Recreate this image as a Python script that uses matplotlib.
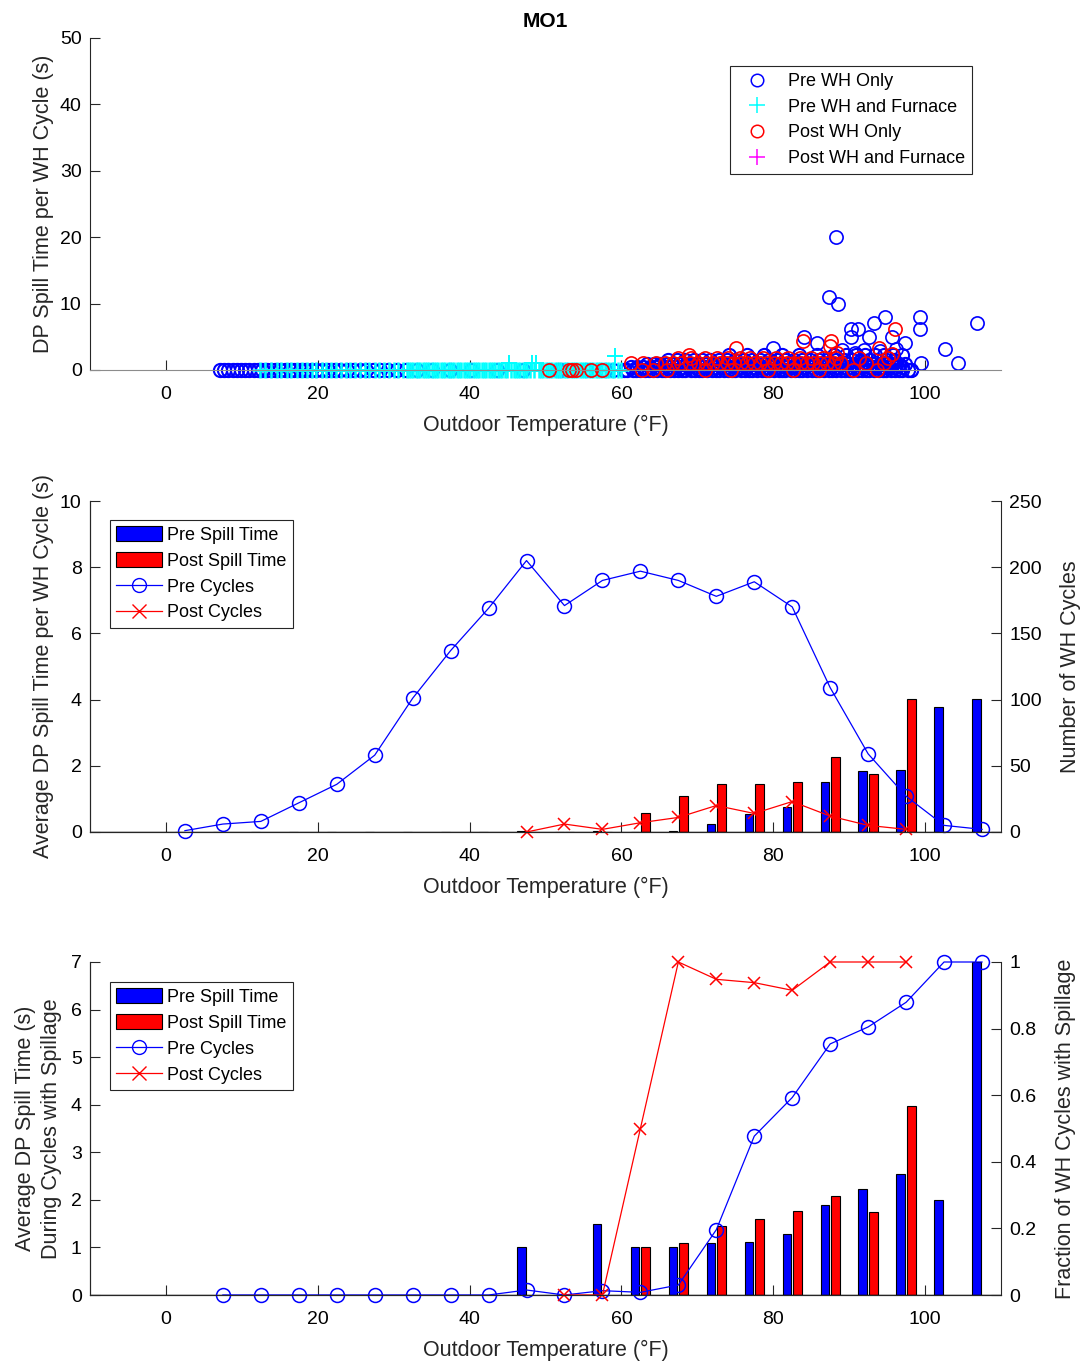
import matplotlib
matplotlib.use('Agg')
import matplotlib.pyplot as plt
from matplotlib.patches import Patch
from matplotlib.lines import Line2D

plt.rcParams['font.family'] = ['Liberation Sans', 'DejaVu Sans']

# ---------------- top panel: each WH cycle ----------------
# Pre WH Only (blue circles), grouped by spill level (s)
pre_wh_x_0 = [7.1, 7.6, 8.2, 8.8, 9.3, 9.9, 10.4, 11.0, 11.6, 12.1, 12.7, 13.3, 13.8, 14.4,
              15.0, 15.7, 16.3, 16.9, 17.6, 18.3, 19.1, 19.8, 20.6, 21.4, 22.1, 22.9, 23.8,
              24.6, 25.5, 26.4, 27.3, 28.2, 29.3, 30.4, 31.6, 33.1, 35.0, 37.4, 40.2, 43.6,
              47.1, 51.6, 52.0, 55.4, 57.8, 58.9,
              60.3, 60.8, 61.5, 61.9, 62.4, 63.1, 63.6, 64.2, 64.7, 65.3, 65.8, 66.4, 66.9,
              67.5, 68.0, 68.4, 69.1, 69.7, 70.2, 70.6, 71.3, 71.9, 72.4, 72.8, 73.5, 74.1,
              74.6, 75.0, 75.7, 76.3, 76.8, 77.2, 77.9, 78.5, 79.0, 79.4, 80.1, 80.7, 81.2,
              81.6, 82.3, 82.9, 83.4, 83.8, 84.5, 85.1, 85.6, 86.0, 86.7, 87.3, 87.8, 88.2,
              88.9, 89.5, 90.0, 90.4, 91.1, 91.7, 92.2, 92.6, 93.3, 93.9, 94.4, 94.8, 95.5,
              96.1, 96.6, 97.0, 97.7, 98.2]
pre_wh_x_1 = [61.2, 62.1, 62.9, 63.8, 64.6, 65.5, 66.3, 67.2, 68.0, 68.9, 69.7, 70.6, 71.4,
              72.3, 73.1, 74.0, 74.8, 75.7, 76.5, 77.4, 78.2, 79.1, 79.9, 80.8, 81.6, 82.5,
              83.3, 84.2, 85.0, 85.9, 86.7, 87.6, 88.4, 89.3, 90.1, 91.0, 91.8, 92.7, 93.5,
              94.4, 95.2, 96.1, 96.9]
pre_wh_x_2 = [63.4, 64.3, 65.1, 66.0, 66.8, 67.7, 68.5, 69.4, 70.2, 71.1, 71.9, 72.8, 73.6,
              74.5, 75.3, 76.2, 77.0, 77.9, 78.7, 79.6, 80.4, 81.3, 82.1, 83.0, 83.8, 84.7,
              85.5, 86.4, 87.2, 88.1, 88.9, 89.8, 90.6, 91.5, 92.3, 93.2, 94.0, 94.9, 95.7,
              96.6, 97.4]
pre_wh_x_3 = [66.2, 67.3, 68.4, 69.5, 70.6, 71.7, 72.8, 73.9, 75.0, 76.1, 77.2, 78.3, 79.4,
              80.5, 81.6, 82.7, 83.8, 84.9, 86.0, 87.1, 88.2, 89.3, 90.4, 91.5, 92.6, 93.7,
              94.8, 95.9]
pre_wh_x_4 = [74.2, 76.5, 78.8, 81.1, 83.4, 85.7, 88.0, 89.6, 90.9, 92.1, 93.4, 94.6, 95.8, 96.9]
pre_wh_lvl = [0.0, 0.4, 0.9, 1.5, 2.2]
pre_wh_hi_x = [88.3, 87.3, 88.5, 94.7, 99.3, 106.8, 93.3, 90.3, 91.2, 99.3, 84.1, 90.3, 92.6,
               95.7, 85.8, 97.3, 80.0, 102.6, 104.4, 99.5, 89.0, 96.2, 94.0, 92.0, 90.8, 98.2]
pre_wh_hi_y = [20.0, 11.0, 10.0, 8.0, 8.0, 7.1, 7.1, 6.1, 6.1, 6.1, 5.0, 5.0, 5.0,
               5.0, 4.1, 4.1, 3.3, 3.1, 1.1, 1.1, 3.0, 3.2, 2.8, 3.0, 2.6, 0.0]

# Pre WH and Furnace (cyan plus)
pre_whf_x = [12.4, 13.1, 13.9, 14.6, 15.2, 15.9, 16.5, 17.3, 17.9, 18.6, 19.2, 19.8, 20.5,
             21.1, 21.8, 22.4, 23.0, 23.7, 24.3, 24.9, 25.6, 26.2, 26.8, 27.5, 28.1, 28.7,
             29.4, 30.0, 30.6, 31.2, 31.7,
             32.0, 32.3, 32.6, 32.9, 33.2, 33.5, 33.8, 34.1, 34.4, 34.7, 35.0, 35.3, 35.6,
             35.9, 36.2, 36.5, 36.8, 37.1, 37.4, 37.7, 38.0, 38.3, 38.6, 38.9, 39.2, 39.5,
             39.8, 40.1, 40.4, 40.7, 41.0, 41.3, 41.6, 41.9, 42.2, 42.5, 42.8, 43.1, 43.4,
             43.7, 44.0, 44.3, 44.6, 44.9, 45.5, 45.8, 46.1, 46.4, 46.7, 47.0, 47.3, 47.6,
             47.9, 48.5, 49.1, 49.4, 49.7, 50.0, 50.3, 50.6, 50.9, 51.2, 51.5, 51.8, 52.1,
             52.4, 52.7, 53.0, 53.3, 53.6, 53.9, 54.2, 54.5, 54.8, 55.1, 55.4, 55.7, 56.0,
             56.3, 56.6, 56.9, 57.2, 57.5, 57.8, 58.1, 58.4, 58.7, 59.0, 59.6, 60.0]
pre_whf_hi_x = [45.2, 48.2, 48.8, 59.2]
pre_whf_hi_y = [1.0, 1.0, 1.0, 2.1]

# Post WH Only (red circles)
post_wh_x_0 = [50.5, 53.1, 53.5, 54.0, 56.0, 57.5, 62.7, 64.1, 66.0, 71.0, 74.5, 79.3, 82.6,
               86.0, 90.5, 93.7]
post_wh_x_1 = [61.3, 62.8, 64.5, 65.7, 66.8, 67.9, 69.0, 70.1, 71.2, 72.1, 73.0, 73.9, 74.8,
               75.7, 76.6, 77.5, 78.3, 79.2, 80.1, 81.0, 81.8, 82.7, 83.6, 84.4, 85.3, 86.2,
               87.1, 88.0, 88.9, 92.2, 94.6]
post_wh_x_2 = [67.4, 69.2, 71.0, 72.6, 74.0, 75.6, 77.0, 78.7, 80.3, 81.9, 83.5, 85.0, 86.6,
               88.2, 91.3, 95.1]
post_wh_lvl = [0.0, 1.1, 1.8]
post_wh_hi_x = [68.9, 75.1, 83.9, 87.6, 87.5, 93.9, 96.1, 88.4, 95.6]
post_wh_hi_y = [2.3, 3.3, 4.3, 4.3, 3.6, 3.3, 6.1, 2.6, 2.4]

# Post WH and Furnace (magenta plus) - none
post_whf_x = []
post_whf_y = []

# ---------------- binned data (5 F bins) ----------------
bins = [2.5, 7.5, 12.5, 17.5, 22.5, 27.5, 32.5, 37.5, 42.5, 47.5, 52.5,
        57.5, 62.5, 67.5, 72.5, 77.5, 82.5, 87.5, 92.5, 97.5, 102.5, 107.5]
pre_cycles = [1, 6, 8, 22, 36, 58, 101, 137, 169, 205, 171,
              190, 197, 190, 178, 189, 170, 109, 59, 27, 5, 2]
pre_spill = [0, 0, 0, 0, 0, 0, 0, 0, 0, 0.02, 0,
             0.02, 0.01, 0.03, 0.25, 0.55, 0.75, 1.51, 1.83, 1.87, 3.77, 4.01]
post_bins = [47.5, 52.5, 57.5, 62.5, 67.5, 72.5, 77.5, 82.5, 87.5, 92.5, 97.5]
post_cycles = [0, 6, 2, 7, 11, 20, 14, 23, 12, 5, 2]
post_spill = [0, 0, 0, 0.58, 1.10, 1.46, 1.44, 1.51, 2.27, 1.76, 4.01]

# spill time during cycles with spillage
pre_sp_bins = [47.5, 52.5, 57.5, 62.5, 67.5, 72.5, 77.5, 82.5, 87.5, 92.5, 97.5, 102.5, 107.5]
pre_sp_time = [1.0, 0, 1.5, 1.0, 1.0, 1.1, 1.11, 1.28, 1.89, 2.22, 2.54, 2.0, 7.0]
post_sp_bins = [62.5, 67.5, 72.5, 77.5, 82.5, 87.5, 92.5, 97.5]
post_sp_time = [1.0, 1.1, 1.44, 1.6, 1.77, 2.09, 1.74, 3.98]
pre_frac_bins = [7.5, 12.5, 17.5, 22.5, 27.5, 32.5, 37.5, 42.5, 47.5, 52.5, 57.5,
                 62.5, 67.5, 72.5, 77.5, 82.5, 87.5, 92.5, 97.5, 102.5, 107.5]
pre_frac = [0, 0, 0, 0, 0, 0, 0, 0, 0.015, 0, 0.013,
            0.008, 0.03, 0.196, 0.477, 0.593, 0.754, 0.805, 0.879, 1.0, 1.0]
post_frac_bins = [52.5, 57.5, 62.5, 67.5, 72.5, 77.5, 82.5, 87.5, 92.5, 97.5]
post_frac = [0, 0, 0.5, 1.0, 0.948, 0.938, 0.915, 1.0, 1.0, 1.0]

TXT = '#262626'
BLUE = '#0000ff'
RED = '#ff0000'
CYAN = '#00ffff'
MAG = '#ff00ff'
bw = 1.15
boff = 0.7
LBL = 15.5


def style_axes(ax, right=False):
    ax.spines['top'].set_visible(False)
    ax.spines['right'].set_visible(right)
    for s in ['left', 'bottom', 'right']:
        ax.spines[s].set_color(TXT)
        ax.spines[s].set_linewidth(0.8)
    ax.tick_params(direction='in', length=7, width=0.8, colors=TXT, labelsize=14,
                   labelcolor='black', pad=6)
    ax.tick_params(axis='x', pad=11.5)
    ax.set_xlim(-10, 110)
    ax.set_xticks([0, 20, 40, 60, 80, 100])


def pts(xs, lvl):
    return xs, [lvl] * len(xs)


fig = plt.figure(figsize=(10.81, 13.64), dpi=100)

# ----- top -----
ax = fig.add_axes([90 / 1081, 1 - 370 / 1364, 911 / 1081, 332 / 1364])
style_axes(ax)
ax.spines['bottom'].set_color('#8c8c8c')
# matlab does not clip markers at the axes edge
mk = dict(linestyle='none', ms=9.5, mew=1.2, mfc='none', clip_on=False)
bk = dict(linestyle='none', ms=9.5, mew=1.5, mfc='none', clip_on=False)
pk = dict(linestyle='none', ms=11, mew=1.4, clip_on=False)
for xs, lvl in zip([pre_wh_x_0, pre_wh_x_1, pre_wh_x_2, pre_wh_x_3, pre_wh_x_4], pre_wh_lvl):
    ax.plot(*pts(xs, lvl), marker='o', mec=BLUE, **bk)
ax.plot(pre_wh_hi_x, pre_wh_hi_y, marker='o', mec=BLUE, **mk)
ax.plot(*pts(pre_whf_x, 0.0), marker='+', mec=CYAN, linestyle='none', ms=11, mew=1.8,
        clip_on=False)
ax.plot(pre_whf_hi_x, pre_whf_hi_y, marker='+', mec=CYAN, **pk)
for xs, lvl in zip([post_wh_x_0, post_wh_x_1, post_wh_x_2], post_wh_lvl):
    ax.plot(*pts(xs, lvl), marker='o', mec=RED, **mk)
ax.plot(post_wh_hi_x, post_wh_hi_y, marker='o', mec=RED, **mk)
ax.plot(post_whf_x, post_whf_y, marker='+', mec=MAG, **pk)
ax.set_ylim(0, 50)
ax.set_yticks([0, 10, 20, 30, 40, 50])
ax.set_xlabel('Outdoor Temperature (°F)', fontsize=LBL, color=TXT, labelpad=8.5)
ax.set_ylabel('DP Spill Time per WH Cycle (s)', fontsize=LBL, color=TXT)
ax.set_title('MO1', fontsize=15, fontweight='bold', pad=8)
h_top = [Line2D([], [], marker='o', mec=BLUE, mfc='none', linestyle='none', ms=9, mew=1.1),
         Line2D([], [], marker='+', mec=CYAN, linestyle='none', ms=11, mew=1.1),
         Line2D([], [], marker='o', mec=RED, mfc='none', linestyle='none', ms=9, mew=1.1),
         Line2D([], [], marker='+', mec=MAG, linestyle='none', ms=11, mew=1.1)]
leg = ax.legend(h_top, ['Pre WH Only', 'Pre WH and Furnace', 'Post WH Only', 'Post WH and Furnace'],
                loc='upper right', bbox_to_anchor=(0.968, 0.916), fontsize=13, frameon=True,
                fancybox=False, edgecolor=TXT, framealpha=1, borderpad=0.4,
                labelspacing=0.48, handletextpad=0.6, handlelength=2.2, borderaxespad=0)
leg.get_frame().set_linewidth(0.8)


def bar_legend(ax2, anchor):
    hs = [Patch(facecolor=BLUE, edgecolor='k', linewidth=0.8),
          Patch(facecolor=RED, edgecolor='k', linewidth=0.8),
          Line2D([], [], color=BLUE, marker='o', mfc='none', ms=10, lw=0.9),
          Line2D([], [], color=RED, marker='x', ms=10, lw=0.9)]
    lg = ax2.legend(hs, ['Pre Spill Time', 'Post Spill Time', 'Pre Cycles', 'Post Cycles'],
                    loc='upper left', bbox_to_anchor=anchor, fontsize=13, frameon=True,
                    fancybox=False, edgecolor=TXT, framealpha=1, borderpad=0.35,
                    labelspacing=0.45, handletextpad=0.3, handlelength=2.5,
                    handleheight=0.9, borderaxespad=0)
    lg.get_frame().set_linewidth(0.8)


# ----- middle -----
ax = fig.add_axes([90 / 1081, 1 - 832 / 1364, 911 / 1081, 331 / 1364])
style_axes(ax)
ax.bar([b - boff for b in bins], pre_spill, width=bw, color=BLUE, edgecolor='k', linewidth=0.8)
ax.bar([b + boff for b in post_bins], post_spill, width=bw, color=RED, edgecolor='k', linewidth=0.8)
ax.axhline(0, color='k', lw=1.0)
ax.set_ylim(0, 10)
ax.set_yticks([0, 2, 4, 6, 8, 10])
ax.set_xlabel('Outdoor Temperature (°F)', fontsize=LBL, color=TXT, labelpad=8.5)
ax.set_ylabel('Average DP Spill Time per WH Cycle (s)', fontsize=LBL, color=TXT)
ax2 = ax.twinx()
style_axes(ax2, right=True)
ax2.plot(bins, pre_cycles, color=BLUE, marker='o', mfc='none', ms=10, mew=1.1, lw=0.9,
         clip_on=False)
ax2.plot(post_bins, post_cycles, color=RED, marker='x', ms=9, mew=1.1, lw=0.9, clip_on=False)
ax2.set_ylim(0, 250)
ax2.set_yticks([0, 50, 100, 150, 200, 250])
ax2.set_ylabel('Number of WH Cycles', fontsize=LBL, color=TXT, labelpad=13)
bar_legend(ax2, (0.022, 0.943))

# ----- bottom -----
ax = fig.add_axes([90 / 1081, 1 - 1295 / 1364, 911 / 1081, 333 / 1364])
style_axes(ax)
ax.bar([b - boff for b in pre_sp_bins], pre_sp_time, width=bw, color=BLUE, edgecolor='k', linewidth=0.8)
ax.bar([b + boff for b in post_sp_bins], post_sp_time, width=bw, color=RED, edgecolor='k', linewidth=0.8)
ax.axhline(0, color='k', lw=1.0)
ax.set_ylim(0, 7)
ax.set_yticks(range(8))
ax.set_xlabel('Outdoor Temperature (°F)', fontsize=LBL, color=TXT, labelpad=8.5)
ax.set_ylabel('Average DP Spill Time (s)\nDuring Cycles with Spillage', fontsize=LBL,
              color=TXT, linespacing=1.35, labelpad=6)
ax2 = ax.twinx()
style_axes(ax2, right=True)
ax2.plot(pre_frac_bins, pre_frac, color=BLUE, marker='o', mfc='none', ms=10, mew=1.1, lw=0.9,
         clip_on=False)
ax2.plot(post_frac_bins, post_frac, color=RED, marker='x', ms=9, mew=1.1, lw=0.9, clip_on=False)
ax2.set_ylim(0, 1)
ax2.set_yticks([0, 0.2, 0.4, 0.6, 0.8, 1])
ax2.set_yticklabels(['0', '0.2', '0.4', '0.6', '0.8', '1'])
ax2.set_ylabel('Fraction of WH Cycles with Spillage', fontsize=LBL, color=TXT, labelpad=13)
bar_legend(ax2, (0.022, 0.94))

fig.savefig('out.png', dpi=100)
